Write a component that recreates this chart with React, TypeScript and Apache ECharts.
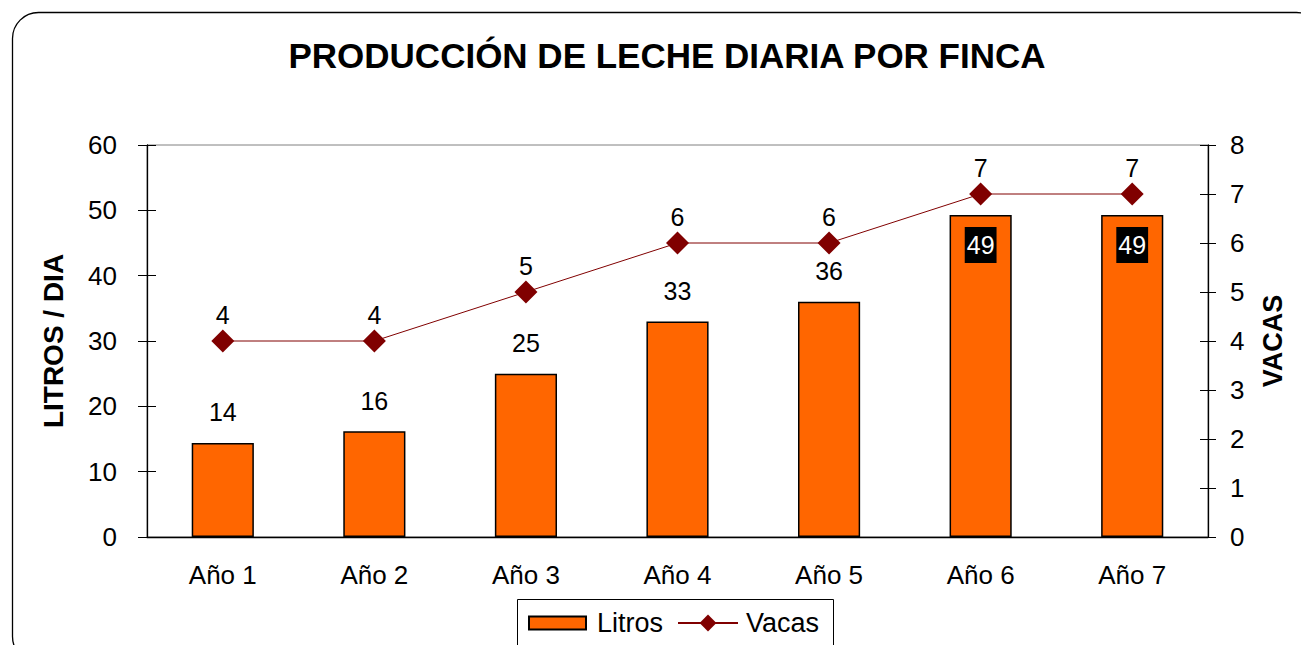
import React, { useEffect, useRef } from 'react';
import * as echarts from 'echarts';

const categories = ['Año 1', 'Año 2', 'Año 3', 'Año 4', 'Año 5', 'Año 6', 'Año 7'];
const litros = [14.4, 16.2, 25, 33, 36, 49.3, 49.3];
const vacas = [4, 4, 5, 6, 6, 7, 7];
const chartTitle = 'PRODUCCIÓN DE LECHE DIARIA POR FINCA';
const leftAxisName = 'LITROS / DIA';
const rightAxisName = 'VACAS';
const seriesNames = ['Litros', 'Vacas'];
const insideLabelFrom = 5;

export default function App() {
  const ref = useRef<HTMLDivElement>(null);
  useEffect(() => {
    const chart = echarts.init(ref.current!, null, { renderer: 'svg' });
    const font = "'Liberation Sans', Arial, sans-serif";
    const black = '#000';
    const legendText = { fontSize: 27, color: black, fontFamily: font, lineHeight: 30 };
    const option = {
      animation: false,
      backgroundColor: '#fff',
      textStyle: { fontFamily: font },
      graphic: [
        {
          type: 'rect',
          silent: true,
          z: -1,
          shape: { x: 12.5, y: 12.5, width: 1310, height: 650, r: 26 },
          style: { fill: 'none', stroke: black, lineWidth: 1.3 },
        },
        {
          type: 'rect',
          silent: true,
          z: -1,
          shape: { x: 517.5, y: 599.5, width: 316, height: 70 },
          style: { fill: 'none', stroke: black, lineWidth: 1 },
        },
        {
          type: 'text',
          x: 667,
          y: 55,
          style: {
            text: chartTitle,
            font: `bold 35px ${font}`,
            fill: black,
            textAlign: 'center',
            textVerticalAlign: 'middle',
          },
        },
      ],
      grid: {
        left: 147,
        right: 93,
        top: 145,
        bottom: 108,
        show: true,
        borderColor: '#808080',
        borderWidth: 1,
        backgroundColor: 'transparent',
      },
      legend: [
        {
          left: 528,
          top: 608,
          padding: 0,
          itemWidth: 57,
          itemHeight: 13,
          textStyle: { ...legendText, padding: [0, 0, 0, 6] },
          data: [{ name: seriesNames[0], icon: 'rect' }],
        },
        {
          left: 677,
          top: 608,
          padding: 0,
          itemWidth: 60,
          itemHeight: 21,
          textStyle: { ...legendText, padding: [0, 0, 0, 3] },
          data: [{ name: seriesNames[1] }],
        },
      ],
      xAxis: [
        {
          type: 'category',
          data: categories,
          position: 'bottom',
          axisLine: { lineStyle: { color: black, width: 1.3 } },
          axisTick: { length: 8, lineStyle: { color: black } },
          axisLabel: { color: black, fontSize: 26, margin: 25, fontFamily: font },
        },
        {
          type: 'category',
          data: categories,
          position: 'bottom',
          axisLine: { show: false },
          axisTick: { inside: true, length: 8, lineStyle: { color: black } },
          axisLabel: { show: false },
        },
      ],
      yAxis: [
        {
          type: 'value',
          position: 'left',
          min: 0,
          max: 60,
          interval: 10,
          name: leftAxisName,
          nameLocation: 'middle',
          nameGap: 80,
          nameTextStyle: { fontSize: 28, fontWeight: 'bold', color: black, fontFamily: font },
          axisLine: { show: true, lineStyle: { color: black, width: 1.3 } },
          axisTick: { show: true, length: 9, lineStyle: { color: black } },
          axisLabel: { color: black, fontSize: 26, margin: 30, fontFamily: font },
          splitLine: { show: false },
        },
        {
          type: 'value',
          position: 'right',
          min: 0,
          max: 8,
          interval: 1,
          name: rightAxisName,
          nameLocation: 'middle',
          nameGap: 51,
          nameTextStyle: { fontSize: 27, fontWeight: 'bold', color: black, fontFamily: font },
          axisLine: { show: true, lineStyle: { color: black, width: 1.3 } },
          axisTick: { show: true, length: 8, lineStyle: { color: black } },
          axisLabel: { color: black, fontSize: 26, margin: 22, fontFamily: font },
          splitLine: { show: false },
        },
        {
          type: 'value',
          position: 'left',
          min: 0,
          max: 60,
          interval: 10,
          axisLine: { show: false },
          axisTick: { show: true, inside: true, length: 9, lineStyle: { color: black } },
          axisLabel: { show: false },
          splitLine: { show: false },
        },
        {
          type: 'value',
          position: 'right',
          min: 0,
          max: 8,
          interval: 1,
          axisLine: { show: false },
          axisTick: { show: true, inside: true, length: 8, lineStyle: { color: black } },
          axisLabel: { show: false },
          splitLine: { show: false },
        },
      ],
      series: [
        {
          name: seriesNames[0],
          type: 'bar',
          xAxisIndex: 0,
          yAxisIndex: 0,
          barWidth: '41%',
          data: litros.map((v, i) =>
            i >= insideLabelFrom
              ? {
                  value: v,
                  label: {
                    position: 'insideTop',
                    distance: 12,
                    backgroundColor: black,
                    color: '#fff',
                    padding: [5, 2, 5, 2],
                    lineHeight: 26,
                  },
                }
              : v
          ),
          itemStyle: { color: '#FF6600', borderColor: black, borderWidth: 1.5 },
          label: {
            show: true,
            position: 'top',
            distance: 18,
            fontSize: 25,
            color: black,
            fontFamily: font,
            formatter: (p: any) => String(Math.round(p.value)),
          },
        },
        {
          name: seriesNames[1],
          type: 'line',
          xAxisIndex: 0,
          yAxisIndex: 1,
          data: vacas,
          symbol: 'diamond',
          symbolSize: 23,
          z: 3,
          itemStyle: { color: '#800000' },
          lineStyle: { color: '#800000', width: 1 },
          label: { show: true, position: 'top', distance: 2, fontSize: 25, color: black, fontFamily: font },
        },
      ],
    };
    chart.setOption(option as any);
    return () => chart.dispose();
  }, []);
  return (
    <div
      ref={ref}
      style={{ position: 'fixed', left: 0, top: 0, width: 1301, height: 645 }}
    />
  );
}
